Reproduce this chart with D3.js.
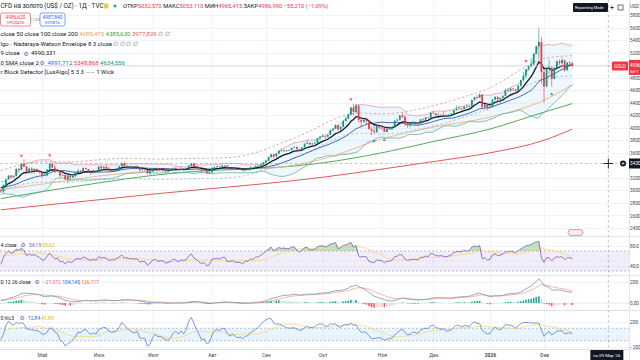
<!DOCTYPE html>
<html><head><meta charset="utf-8">
<script src="https://cdn.jsdelivr.net/npm/d3@7"></script>
<style>
body{margin:0;background:#fff;overflow:hidden}
svg{display:block;font-family:Roboto,"Noto Sans",sans-serif}
</style></head>
<body><svg id="c" width="640" height="360"></svg>
<script>
// ---------------- DATA ----------------
const startDate = "2025-04-08";
const holidays = ["2025-04-18","2025-12-25","2026-01-01"];
const monthNames = ["Янв","Фев","Мар","Апр","Май","Июн","Июл","Авг","Сен","Окт","Ноя","Дек"];
// closes before the first visible bar (warm-up for short indicators)
const preClose = [2952,2915,2916,2876,2858,2893,2918,2920,2910,2910,2889,2916,2934,2988,2984,3001,3035,3047,3044,3023,3011,3020,3020,3057,3085,3123,3113,3134,3114,3037,3000];
const open = [3000,2982,3082,3175,3237,3210,3229,3342,3327,3424,
3381,3288,3349,3319,3344,3317,3288,3239,3241,3334,
3431,3365,3306,3325,3236,3248,3177,3240,3204,3230,
3290,3314,3295,3357,3342,3300,3288,3318,3289,3381,
3353,3374,3352,3310,3326,3322,3354,3386,3433,3385,
3388,3369,3370,3368,3368,3323,3333,3328,3274,3303,
3338,3357,3326,3337,3336,3302,3313,3324,3355,3343,
3324,3347,3339,3350,3397,3431,3387,3368,3337,3314,
3326,3275,3289,3363,3373,3381,3369,3396,3398,3342,
3348,3356,3335,3336,3332,3315,3348,3339,3372,3365,
3393,3397,3416,3448,3477,3533,3578,3545,3586,3636,
3626,3641,3634,3643,3679,3690,3660,3644,3685,3746,
3763,3736,3749,3760,3833,3858,3866,3857,3886,3961,
3985,4040,3976,4017,4110,4143,4209,4326,4251,4356,
4125,4095,4126,4112,3981,3953,3930,4024,4002,4000,
3932,3980,3977,4000,4115,4128,4195,4172,4085,4045,
4066,4077,4077,4065,4135,4130,4164,4155,4240,4231,
4205,4200,4207,4198,4189,4208,4228,4280,4300,4305,
4302,4338,4330,4340,4445,4490,4480,4532,4330,4370,
4320,4330,4450,4495,4455,4478,4510,4600,4590,4625,
4615,4595,4670,4760,4830,4935,4980,5010,5180,5300,
5370,4890,4660,4950,4960,4780,4960,5060,5030,5080,
4920,5040,5032.57];
const high = [3023,3100,3180,3245,3245,3234,3357,3358,3430,3500,
3386,3367,3371,3352,3347,3328,3290,3269,3337,3437,
3435,3414,3345,3327,3265,3252,3244,3253,3250,3296,
3345,3325,3366,3365,3344,3325,3330,3325,3385,3392,
3385,3403,3375,3340,3349,3360,3390,3446,3451,3405,
3393,3378,3375,3398,3370,3348,3350,3330,3310,3358,
3365,3365,3345,3342,3347,3318,3330,3368,3375,3366,
3377,3352,3361,3402,3433,3439,3393,3373,3345,3334,
3334,3315,3364,3385,3390,3390,3409,3404,3400,3358,
3375,3374,3343,3358,3345,3350,3351,3378,3376,3394,
3399,3423,3454,3489,3540,3580,3583,3600,3646,3674,
3651,3645,3655,3685,3703,3707,3664,3690,3749,3791,
3764,3761,3783,3835,3871,3895,3875,3895,3977,3990,
4059,4045,4022,4116,4180,4218,4330,4380,4381,4359,
4161,4160,4160,4115,4016,4030,4030,4050,4030,4006,
3995,4028,4022,4120,4148,4208,4245,4210,4095,4080,
4110,4100,4085,4140,4160,4170,4170,4245,4265,4233,
4240,4215,4260,4212,4220,4235,4286,4354,4352,4320,
4345,4375,4360,4450,4497,4526,4550,4535,4390,4380,
4400,4455,4500,4498,4482,4515,4630,4634,4643,4635,
4620,4690,4765,4888,4940,4990,5110,5190,5310,5595,
5450,4940,4960,5090,4980,4970,5075,5090,5120,5085,
5045,5060,5053.11];
const low = [2957,2957,3070,3170,3195,3205,3225,3285,3320,3370,
3260,3261,3268,3267,3300,3268,3202,3223,3225,3324,
3363,3275,3296,3207,3228,3167,3121,3154,3198,3205,
3283,3285,3287,3335,3285,3245,3270,3275,3285,3333,
3345,3338,3305,3293,3310,3310,3340,3382,3380,3365,
3362,3348,3340,3350,3295,3310,3317,3255,3247,3295,
3330,3310,3323,3296,3288,3282,3307,3322,3340,3320,
3319,3310,3334,3345,3383,3381,3351,3325,3301,3308,
3268,3268,3280,3346,3355,3358,3366,3380,3340,3331,
3344,3330,3327,3323,3311,3311,3325,3321,3352,3351,
3371,3385,3403,3436,3470,3528,3511,3535,3580,3621,
3620,3615,3630,3635,3675,3646,3628,3627,3683,3736,
3717,3722,3740,3758,3793,3852,3820,3845,3885,3940,
3980,3945,3947,4005,4095,4140,4200,4200,4236,4082,
4004,4080,4060,3971,3886,3915,3920,3970,3962,3929,
3928,3970,3965,3995,4090,4110,4160,4030,4000,4005,
4063,4045,4022,4050,4100,4125,4140,4150,4220,4185,
4195,4175,4190,4170,4172,4190,4212,4275,4290,4270,
4295,4310,4320,4338,4440,4465,4475,4305,4315,4275,
4310,4326,4435,4420,4410,4462,4505,4570,4575,4582,
4537,4590,4660,4740,4785,4912,4980,5000,5170,5100,
4700,4402,4650,4860,4660,4770,4940,5000,5010,4890,
4905,4990,4965.42];
const close = [2982,3082,3175,3237,3210,3229,3342,3327,3424,3381,
3288,3349,3319,3344,3317,3288,3239,3241,3334,3431,
3365,3306,3325,3236,3248,3177,3240,3204,3230,3290,
3314,3295,3357,3342,3300,3288,3318,3289,3381,3353,
3374,3352,3310,3326,3322,3354,3386,3433,3385,3388,
3369,3370,3368,3368,3323,3333,3328,3274,3303,3338,
3357,3326,3337,3336,3302,3313,3324,3355,3343,3324,
3347,3339,3350,3397,3431,3387,3368,3337,3314,3326,
3275,3289,3363,3373,3381,3369,3396,3398,3342,3348,
3356,3335,3336,3332,3315,3348,3339,3372,3365,3393,
3397,3416,3448,3477,3533,3578,3545,3586,3636,3626,
3641,3634,3643,3679,3690,3660,3644,3685,3746,3763,
3736,3749,3760,3833,3858,3866,3857,3886,3961,3985,
4040,3976,4017,4110,4143,4209,4326,4251,4356,4125,
4095,4126,4112,3981,3953,3930,4024,4002,4000,3932,
3980,3977,4000,4115,4128,4195,4172,4085,4045,4066,
4077,4077,4065,4135,4130,4164,4155,4240,4231,4205,
4200,4207,4198,4189,4208,4228,4280,4300,4305,4302,
4338,4330,4340,4445,4490,4480,4532,4330,4370,4320,
4330,4450,4495,4455,4478,4510,4600,4590,4625,4615,
4595,4670,4760,4830,4935,4980,5010,5180,5300,5370,
4890,4660,4950,4960,4780,4960,5060,5030,5080,4920,
5040,5042.2,4986.99];
// long moving averages (50 / 100 / 200) at these bar indices
const maIdx  = [0,16,38,59,82,103,125,148,168,190,211,222];
const ma50   = [3010,3100,3230,3310,3345,3355,3500,3820,4010,4170,4440,4685];
const ma100  = [2870,2980,3120,3240,3320,3355,3440,3600,3780,3980,4250,4386];
const ma200  = [2690,2760,2850,2940,3030,3110,3210,3340,3460,3600,3800,3978];
// Nadaraya-Watson signal markers
const nwDownIdx = [8,19,136,204];
const nwUpIdx = [145,149,214];
const priceTicks = [5800,5600,5400,5200,4800,4600,4400,4200,4000,3800,3600,3200,3000,2800,2600,2400];
const rsiTicks = [80,40], macdTicks = [200,0], cciTicks = [200,-200];
const rsiTickLabels = ["80,0","40,0"], macdTickLabels = ["200","0,00"], cciTickLabels = ["200","−200"];

// ---------------- DATES ----------------
const dates = [];
{ let d = new Date(startDate+"T00:00:00Z");
  while (dates.length < close.length) {
    const s = d.toISOString().slice(0,10), wd = d.getUTCDay();
    if (wd!==0 && wd!==6 && !holidays.includes(s)) dates.push(new Date(d));
    d.setUTCDate(d.getUTCDate()+1);
  } }
const monthStarts = [];
dates.forEach((d,i)=>{ if(i>0 && d.getUTCMonth()!==dates[i-1].getUTCMonth()) monthStarts.push(i); });
const monthLabel = i => dates[i].getUTCMonth()===0 ? String(dates[i].getUTCFullYear()) : monthNames[dates[i].getUTCMonth()];

// ---------------- INDICATORS ----------------
const P = preClose.length;
const allC = preClose.concat(close);
const allTp = preClose.concat(close.map((c,i)=>(high[i]+low[i]+c)/3));
function sma(a,n){return a.map((v,i)=>{ if(i<n-1) return null; const s=a.slice(i-n+1,i+1); if(s.some(q=>q==null)) return null; return d3.mean(s);});}
function ema(a,n){const k=2/(n+1); let e=null; return a.map(v=>{ e = e==null? v : v*k+e*(1-k); return e;});}
function stdev(a,n){return a.map((v,i)=> i<n-1?null: d3.deviation(a.slice(i-n+1,i+1))*Math.sqrt((n-1)/n));}
const bbBasis = sma(allC,20), bbDev = stdev(allC,20);
const bbUp = bbBasis.map((b,i)=>b==null?null:b+2*bbDev[i]);
const bbLo = bbBasis.map((b,i)=>b==null?null:b-2*bbDev[i]);
const ema9 = ema(allC,9);
const rsi = (()=>{ const n=14; let ag=0,al=0; const out=[null];
  for(let i=1;i<allC.length;i++){ const ch=allC[i]-allC[i-1], g=Math.max(ch,0), l=Math.max(-ch,0);
    if(i<=n){ag+=g/n; al+=l/n; out.push(i<n?null:100-100/(1+ag/al));}
    else {ag=(ag*(n-1)+g)/n; al=(al*(n-1)+l)/n; out.push(100-100/(1+ag/al));} }
  return out; })();
const rsiMa = sma(rsi,14);
const e12=ema(allC,12), e26=ema(allC,26);
const macd = e12.map((v,i)=>v-e26[i]);
const sig = ema(macd,9);
const hist = macd.map((v,i)=>v-sig[i]);
const tpS = sma(allTp,20);
const cci = allTp.map((v,i)=>{ if(tpS[i]==null) return null; const s=allTp.slice(i-19,i+1); const md=d3.mean(s,q=>Math.abs(q-tpS[i])); return (v-tpS[i])/(0.015*md);});
const cciMa = sma(cci,14);
const nw = (()=>{ const h=8, n=allC.length; const est=[];
  for(let i=0;i<n;i++){ let s=0,w=0; for(let j=0;j<n;j++){ const k=Math.exp(-((i-j)*(i-j))/(h*h*2)); s+=allC[j]*k; w+=k;} est.push(s/w);}
  const mae = d3.mean(allC.slice(P),(c,i)=>Math.abs(c-est[i+P]))*3;
  return {up:est.map(v=>v+mae), lo:est.map(v=>v-mae)}; })();
const vis = a => a.slice(P);

// ---------------- SCALES ----------------
const svg = d3.select('#c');
const R = 629;
const x = d3.scaleLinear().domain([16,211]).range([42,544]);
const yP = d3.scaleLinear().domain([2400,5800]).range([228,15]);
const yR = d3.scaleLinear().domain([40,80]).range([266,246]);
const yM = d3.scaleLinear().domain([0,200]).range([303,282]);
const yC = d3.scaleLinear().domain([-200,200]).range([347,322]);
const panes = {main:[0,236], rsi:[237,275], macd:[276,310], cci:[311,349]};
const defs = svg.append('defs');
Object.entries(panes).forEach(([k,[a,b]])=>defs.append('clipPath').attr('id','cl-'+k).append('rect').attr('x',0).attr('y',a).attr('width',R).attr('height',b-a));
const g = k => svg.append('g').attr('clip-path',`url(#cl-${k})`);
const idx = d3.range(close.length);
const grid = '#f0f3fa';

const gg = svg.append('g');
gg.selectAll('.vg').data(monthStarts).join('line').attr('x1',i=>x(i)+0.5).attr('x2',i=>x(i)+0.5).attr('y1',0).attr('y2',349).attr('stroke',grid);
gg.selectAll('.hg').data(priceTicks.concat([5000])).join('line').attr('x1',0).attr('x2',R).attr('y1',d=>Math.round(yP(d))+0.5).attr('y2',d=>Math.round(yP(d))+0.5).attr('stroke',grid);
[[yR,rsiTicks],[yM,macdTicks],[yC,cciTicks]].forEach(([s,t])=>gg.selectAll(null).data(t).join('line').attr('x1',0).attr('x2',R).attr('y1',d=>Math.round(s(d))+0.5).attr('y2',d=>Math.round(s(d))+0.5).attr('stroke',grid));
[236,275,310,349].forEach(yy=>svg.append('line').attr('x1',0).attr('x2',640).attr('y1',yy+0.5).attr('y2',yy+0.5).attr('stroke','#e0e3eb'));
svg.append('line').attr('x1',R+0.5).attr('x2',R+0.5).attr('y1',0).attr('y2',360).attr('stroke','#e0e3eb');

// ---------------- MAIN PANE ----------------
const m = g('main');
const lineOf = (arr, s) => d3.line().defined((d,i)=>arr[i]!=null).x((d,i)=>x(i)).y((d,i)=>s(arr[i]))(idx);
m.append('path').attr('d', d3.area().defined((d,i)=>vis(bbUp)[i]!=null).x((d,i)=>x(i)).y0((d,i)=>yP(vis(bbLo)[i])).y1((d,i)=>yP(vis(bbUp)[i]))(idx)).attr('fill','rgba(33,150,243,0.08)');
const maLine = (vals,color,w) => m.append('path').attr('d', d3.line().curve(d3.curveMonotoneX).x((d,i)=>x(maIdx[i])).y(d=>yP(d))(vals)).attr('fill','none').attr('stroke',color).attr('stroke-width',w);
maLine(ma200,'#e05a5a',1);
maLine(ma100,'#43a047',0.9);
maLine(ma50,'#f2b27e',0.9);
m.append('path').attr('d',lineOf(vis(nw.up),yP)).attr('fill','none').attr('stroke','#c98b8b').attr('stroke-width',0.7).attr('stroke-dasharray','2.5,2');
m.append('path').attr('d',lineOf(vis(nw.lo),yP)).attr('fill','none').attr('stroke','#8fb5ad').attr('stroke-width',0.7).attr('stroke-dasharray','2.5,2');
m.append('path').attr('d',lineOf(vis(bbUp),yP)).attr('fill','none').attr('stroke','#e99aa0').attr('stroke-width',0.8);
m.append('path').attr('d',lineOf(vis(bbLo),yP)).attr('fill','none').attr('stroke','#5fb3a6').attr('stroke-width',0.8);
m.append('path').attr('d',lineOf(vis(bbBasis),yP)).attr('fill','none').attr('stroke','#3656b0').attr('stroke-width',0.9);
m.append('path').attr('d',lineOf(vis(ema9),yP)).attr('fill','none').attr('stroke','#131722').attr('stroke-width',1.3);
m.append('line').attr('x1',0).attr('x2',R).attr('y1',yP(close[close.length-1])).attr('y2',yP(close[close.length-1])).attr('stroke','#d1d4dc').attr('stroke-width',0.8);
const up='#089981', dn='#f23645';
const cg = m.append('g');
cg.selectAll('.w').data(idx).join('line').attr('x1',i=>x(i)).attr('x2',i=>x(i)).attr('y1',i=>yP(high[i])).attr('y2',i=>yP(low[i])).attr('stroke',i=>close[i]>=open[i]?up:dn).attr('stroke-width',0.6);
cg.selectAll('.b').data(idx).join('rect').attr('x',i=>x(i)-0.85).attr('width',1.7).attr('y',i=>yP(Math.max(open[i],close[i]))).attr('height',i=>Math.max(0.6,Math.abs(yP(open[i])-yP(close[i])))).attr('fill',i=>close[i]>=open[i]?up:dn);
m.selectAll('.nd').data(nwDownIdx).join('path').attr('d',i=>{const cx=x(i),cy=yP(high[i])-7;return `M${cx-1.8},${cy-1.8}L${cx+1.8},${cy-1.8}L${cx},${cy+1.2}Z`;}).attr('fill','#f23645').attr('opacity',0.75);
m.selectAll('.nu').data(nwUpIdx).join('path').attr('d',i=>{const cx=x(i),cy=yP(low[i])+7;return `M${cx-1.8},${cy+1.8}L${cx+1.8},${cy+1.8}L${cx},${cy-1.2}Z`;}).attr('fill','#089981').attr('opacity',0.75);

// ---------------- RSI ----------------
const r = g('rsi');
r.append('rect').attr('x',0).attr('width',R).attr('y',yR(70)).attr('height',yR(30)-yR(70)).attr('fill','rgba(126,87,194,0.1)');
[70,30].forEach(v=>r.append('line').attr('x1',0).attr('x2',R).attr('y1',yR(v)).attr('y2',yR(v)).attr('stroke','#9598a1').attr('stroke-width',0.6).attr('stroke-dasharray','2,2'));
r.append('line').attr('x1',0).attr('x2',R).attr('y1',yR(50)).attr('y2',yR(50)).attr('stroke','#b2b5be').attr('stroke-width',0.5).attr('stroke-dasharray','1,2');
const rv = vis(rsi), rm = vis(rsiMa);
r.append('path').attr('d',d3.area().x((d,i)=>x(i)).y0(yR(70)).y1((d,i)=>yR(Math.max(70,rv[i])))(idx)).attr('fill','rgba(76,175,80,0.35)');
r.append('path').attr('d',d3.area().x((d,i)=>x(i)).y0(yR(30)).y1((d,i)=>yR(Math.min(30,rv[i])))(idx)).attr('fill','rgba(242,54,69,0.35)');
r.append('path').attr('d',lineOf(rm,yR)).attr('fill','none').attr('stroke','#f7d774').attr('stroke-width',0.8);
r.append('path').attr('d',lineOf(rv,yR)).attr('fill','none').attr('stroke','#7e57c2').attr('stroke-width',0.8);

// ---------------- MACD ----------------
const mc = g('macd');
const hv = vis(hist), mv = vis(macd), sv = vis(sig);
mc.append('line').attr('x1',0).attr('x2',R).attr('y1',yM(0)).attr('y2',yM(0)).attr('stroke','#e0e3eb').attr('stroke-width',0.5);
mc.selectAll('.h').data(idx).join('rect').attr('x',i=>x(i)-0.8).attr('width',1.6)
 .attr('y',i=>Math.min(yM(0),yM(hv[i]))).attr('height',i=>Math.abs(yM(hv[i])-yM(0)))
 .attr('fill',i=>{const p=i>0?hv[i-1]:hv[i]; return hv[i]>=0?(hv[i]>=p?'#26a69a':'#b2dfdb'):(hv[i]<p?'#ff5252':'#ffcdd2');});
mc.append('path').attr('d',lineOf(sv,yM)).attr('fill','none').attr('stroke','#f7a58a').attr('stroke-width',0.8);
mc.append('path').attr('d',lineOf(mv,yM)).attr('fill','none').attr('stroke','#7f8fb8').attr('stroke-width',0.8);

// ---------------- CCI ----------------
const cc = g('cci');
cc.append('rect').attr('x',0).attr('width',R).attr('y',yC(100)).attr('height',yC(-100)-yC(100)).attr('fill','rgba(33,150,243,0.1)');
[100,-100].forEach(v=>cc.append('line').attr('x1',0).attr('x2',R).attr('y1',yC(v)).attr('y2',yC(v)).attr('stroke','#9598a1').attr('stroke-width',0.6).attr('stroke-dasharray','2,2'));
cc.append('path').attr('d',lineOf(vis(cciMa),yC)).attr('fill','none').attr('stroke','#f7d774').attr('stroke-width',0.8);
cc.append('path').attr('d',lineOf(vis(cci),yC)).attr('fill','none').attr('stroke','#5b7fd6').attr('stroke-width',0.8);

// ---------------- AXES ----------------
const loc = d3.formatLocale({decimal:",",thousands:"",grouping:[3],currency:["",""],minus:"−"});
const f0 = loc.format(".0f");
const styleAxis = sel => { sel.select('.domain').remove(); sel.selectAll('text').attr('font-size',4.8).attr('fill','#434651').attr('font-family','Roboto,sans-serif'); };
const AX = 630;
svg.append('g').attr('transform',`translate(${AX},0)`).call(d3.axisRight(yP).tickValues(priceTicks).tickSize(0).tickPadding(0).tickFormat(f0)).call(styleAxis);
svg.append('g').attr('transform',`translate(${AX},0)`).call(d3.axisRight(yR).tickValues(rsiTicks).tickSize(0).tickPadding(0).tickFormat((d,i)=>rsiTickLabels[i])).call(styleAxis);
svg.append('g').attr('transform',`translate(${AX},0)`).call(d3.axisRight(yM).tickValues(macdTicks).tickSize(0).tickPadding(0).tickFormat((d,i)=>macdTickLabels[i])).call(styleAxis);
svg.append('g').attr('transform',`translate(${AX},0)`).call(d3.axisRight(yC).tickValues(cciTicks).tickSize(0).tickPadding(0).tickFormat((d,i)=>cciTickLabels[i])).call(styleAxis);
const xa = svg.append('g').attr('transform','translate(0,351)').call(d3.axisBottom(x).tickValues(monthStarts).tickSize(0).tickPadding(2).tickFormat(monthLabel)).call(styleAxis);
xa.selectAll('text').attr('font-size',5).attr('font-weight',i=>dates[i].getUTCMonth()===0?'bold':'normal');
svg.append('text').attr('x',AX).attr('y',8).attr('font-size',4.8).attr('fill','#434651').text('USD');

// ---------------- OVERLAYS ----------------
const cx = x(close.length-1+14), cy = 163.5;
svg.append('line').attr('x1',0).attr('x2',R).attr('y1',cy).attr('y2',cy).attr('stroke','#9598a1').attr('stroke-width',0.6).attr('stroke-dasharray','2.5,2.5');
svg.append('line').attr('x1',cx).attr('x2',cx).attr('y1',0).attr('y2',349).attr('stroke','#9598a1').attr('stroke-width',0.6).attr('stroke-dasharray','2.5,2.5');
svg.append('path').attr('d',`M${cx-5},${cy}H${cx+5}M${cx},${cy-5}V${cy+5}`).attr('stroke','#131722').attr('stroke-width',0.9);
svg.append('circle').attr('cx',623).attr('cy',cy).attr('r',3).attr('fill','#131722');
svg.append('path').attr('d',`M621.5,${cy}H624.5M623,${cy-1.5}V${cy+1.5}`).attr('stroke','#fff').attr('stroke-width',0.6);
svg.append('rect').attr('x',629).attr('y',cy-5).attr('width',12).attr('height',10).attr('fill','#131722');
svg.append('text').attr('x',AX).attr('y',cy+1.7).attr('font-size',4.8).attr('fill','#fff').text(f0(yP.invert(cy)));
svg.append('rect').attr('x',cx-18).attr('y',350).attr('width',33).attr('height',10).attr('fill','#131722');
svg.append('text').attr('x',cx-1.5).attr('y',356.8).attr('text-anchor','middle').attr('font-size',4.3).attr('fill','#fff').text("пн 09 Мар '26");
const ly = yP(close[close.length-1]);
svg.append('rect').attr('x',612).attr('y',ly-4.5).attr('width',16).attr('height',9).attr('rx',1).attr('fill','#f23645');
svg.append('text').attr('x',620).attr('y',ly+1.7).attr('text-anchor','middle').attr('font-size',4.5).attr('fill','#fff').text('GOLD');
svg.append('rect').attr('x',629).attr('y',ly-6).attr('width',12).attr('height',15).attr('fill','#f23645');
svg.append('text').attr('x',AX).attr('y',ly+1).attr('font-size',4.8).attr('fill','#fff').text(f0(Math.floor(close[close.length-1])));
svg.append('text').attr('x',AX).attr('y',ly+7).attr('font-size',4.3).attr('fill','#fff').text('5d 1');
svg.append('rect').attr('x',573).attr('y',3).attr('width',35).attr('height',9).attr('rx',1).attr('fill','#131722');
svg.append('text').attr('x',575).attr('y',9).attr('font-size',3.8).attr('fill','#fff').text('Repainting Mode');
svg.append('path').attr('d','M610,7.5H614M612,5.5V9.5').attr('stroke','#131722').attr('stroke-width',0.7);
svg.append('rect').attr('x',618).attr('y',5).attr('width',5).attr('height',5).attr('fill','none').attr('stroke','#131722').attr('stroke-width',0.6);
svg.append('rect').attr('x',568).attr('y',229.5).attr('width',15).attr('height',6).attr('rx',3).attr('fill','#fdeaec').attr('stroke','#f23645').attr('stroke-width',0.5);

// ---------------- LEGEND ----------------
const T = (xx,yy,size,parts,anchor) => { const t = svg.append('text').attr('x',xx).attr('y',yy).attr('font-size',size).attr('text-anchor',anchor||'start');
  parts.forEach(p=>t.append('tspan').attr('fill',p[1]||'#131722').attr('font-weight',p[2]||'normal').text(p[0])); return t; };
const red='#f23645';
T(0.5,8.2,6.3,[["CFD на золото (US$ / OZ) · 1Д · TVC"]]);
svg.append('rect').attr('x',104).attr('y',3.5).attr('width',4.5).attr('height',5).attr('rx',0.8).attr('fill','#f6c343');
svg.append('circle').attr('cx',115).attr('cy',6).attr('r',1.6).attr('fill','#22ab94');
T(123,8.2,5.8,[["ОТКР"],["5032,570 ",red],["МАКС"],["5053,110 ",red],["МИН"],["4965,415 ",red],["ЗАКР"],["4986,990 ",red],["−55,210 (−1,09%)",red]]);
svg.append('rect').attr('x',0.5).attr('y',13).attr('width',30).attr('height',13).attr('rx',2).attr('fill','#fff').attr('stroke',red).attr('stroke-width',0.6);
T(15.5,19,4.8,[["4986,620",red]],'middle'); T(15.5,24.3,3.8,[["ПРОДАТЬ",red]],'middle');
T(35.5,20.5,3.8,[["1,220",'#787b86']],'middle');
svg.append('rect').attr('x',40).attr('y',13).attr('width',25).attr('height',13).attr('rx',2).attr('fill','#fff').attr('stroke','#2962ff').attr('stroke-width',0.6);
T(52.5,19,4.8,[["4987,840",'#2962ff']],'middle'); T(52.5,24.3,3.8,[["КУПИТЬ",'#2962ff']],'middle');
const gear = (gx,gy)=>svg.append('text').attr('x',gx).attr('y',gy).attr('font-size',5.8).attr('fill','#7e57c2').attr('text-anchor','middle').attr('font-family','DejaVu Sans').text('⚙');
T(0.5,36,6,[["close 50 close 100 close 200  "],["4685,475 ",'#f0a04b'],["4385,630 ",'#43a047'],["3977,829 ",'#e05a5a'],["∅ ∅",'#787b86']]);
T(0.5,45.5,6,[["lgo - Nadaraya-Watson Envelope 8 3 close  "],["∅ ∅ ∅ ∅",'#787b86']]);
T(0.5,55,6,[["9 close"]]); gear(26,55.5); T(31,55,6,[["4990,331"]]);
T(0.5,64.5,6,[["0 SMA close 2"]]); gear(42,65); T(47.5,64.5,6,[["4991,712 ",'#2962ff'],["5348,868 ",red],["4634,556",'#089981']]);
T(0.5,74,6,[["r Block Detector [LuxAlgo] 5 3 3 "],["——",'#787b86'],[" 1 Wick"]]);
T(0.5,246.5,5,[["4 close"]]); gear(23,247); T(29,246.5,5,[["54,19 ",'#7e57c2'],["59,62",'#e6b800']]);
T(0.5,283.5,5,[["D 12 26 close"]]); gear(37,284); T(43,283.5,5,[["−21,972 ",'#f06070'],["104,145 ",'#2962ff'],["126,117",'#ff6d00']]);
T(0.5,319.5,5,[["0 hlc3"]]); gear(22,320); T(28,319.5,5,[["12,84 ",'#2962ff'],["41,89",'#e6b800']]);
</script></body></html>
